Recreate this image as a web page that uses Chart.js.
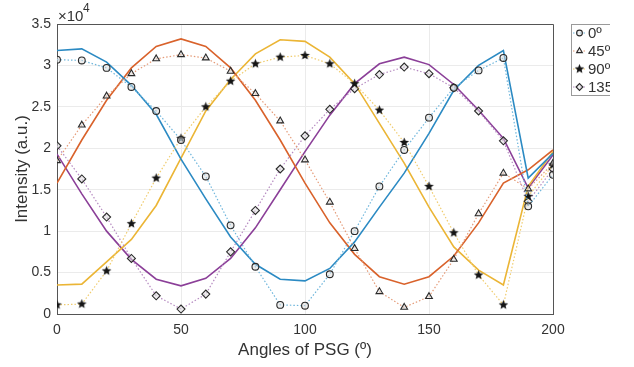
<!DOCTYPE html>
<html>
<head>
<meta charset="utf-8">
<script src="https://cdn.jsdelivr.net/npm/chart.js@4/dist/chart.umd.min.js"></script>
<style>
    html, body { margin: 0; padding: 0; background: #ffffff; }
    #wrap { width: 634px; height: 367px; }
</style>
</head>
<body>
<div id="wrap"><canvas id="chart" width="634" height="367"></canvas></div>
<script>
/* data (intensity, a.u.) */
const angles = [0, 10, 20, 30, 40, 50, 60, 70, 80, 90, 100, 110, 120, 130, 140, 150, 160, 170, 180, 190, 200];

// solid lines (fits)
const fit0 = [31800, 32000, 30400, 27600, 24100, 18700, 13900, 9300, 6000, 4200, 4000, 5500, 8700, 12900, 17000, 21800, 27000, 30000, 31800, 16400, 19400];
const fit45 = [15800, 21000, 25800, 29700, 32300, 33200, 32300, 29700, 25800, 21000, 15800, 11000, 7200, 4500, 3600, 4500, 7000, 11000, 15800, 17400, 19800];
const fit90 = [3500, 3600, 6300, 9000, 13100, 18800, 24500, 28300, 31400, 33100, 32900, 31000, 27800, 23000, 18200, 12900, 8100, 5300, 3500, 15400, 19600];
const fit135 = [19300, 14500, 10000, 6600, 4200, 3400, 4300, 6700, 10400, 15000, 19600, 24000, 27800, 30200, 31000, 30100, 27700, 24600, 21200, 15200, 19200];

// dotted lines with markers (measured)
const meas0 = [30700, 30600, 29700, 27400, 24500, 21000, 16600, 10700, 5700, 1100, 1000, 4800, 10000, 15400, 19800, 23700, 27300, 29400, 30900, 13000, 16800];
const meas45 = [18500, 22800, 26300, 29000, 30800, 31300, 30900, 29300, 26600, 23300, 18600, 13500, 7900, 2700, 800, 2100, 6600, 12100, 17000, 15100, 18200];
const meas90 = [1100, 1200, 5200, 10900, 16400, 21200, 25000, 28100, 30200, 31000, 31200, 30200, 27800, 24600, 20700, 15400, 9800, 4700, 1100, 14200, 18000];
const meas135 = [20300, 16300, 11700, 6700, 2200, 600, 2400, 7500, 12500, 17500, 21500, 24700, 27200, 28900, 29800, 29000, 27300, 24500, 20900, 13600, 17500];

const legendLabels = ["0º", "45º", "90º", "135º"];
const lineColors = ["#2b8ac3", "#d9622b", "#ebb535", "#8b3f98"];
const dotColors = ["#6fb6dc", "#e59b78", "#f0cc6e", "#b68bc1"];

const textColor = "#333333";
const frameColor = "#555555";
const gridColor = "#ebebeb";

/*
    filled five point star for the 90º marker
*/
function makeStar(size) {
    const c = document.createElement("canvas");
    c.width = size;
    c.height = size;
    const g = c.getContext("2d");
    const cx = size / 2, cy = size / 2;
    const outer = size / 2 - 0.5, inner = outer * 0.45;
    g.beginPath();
    for (let i = 0; i < 10; i++) {
        const r = i % 2 === 0 ? outer : inner;
        const a = -Math.PI / 2 + i * Math.PI / 5;
        const px = cx + r * Math.cos(a);
        const py = cy + r * Math.sin(a);
        if (i === 0) g.moveTo(px, py); else g.lineTo(px, py);
    }
    g.closePath();
    g.fillStyle = "#151515";
    g.fill();
    return c;
}
const starImg = makeStar(11);

const markerStyles = [
    { pointStyle: "circle", radius: 3.4 },
    { pointStyle: "triangle", radius: 3.9 },
    { pointStyle: starImg, radius: 5 },
    { pointStyle: "rectRot", radius: 4 }
];

function toPoints(values) {
    return angles.map((a, i) => ({ x: a, y: values[i] }));
}

function measDataset(values, idx) {
    return {
        label: legendLabels[idx],
        data: toPoints(values),
        borderColor: dotColors[idx],
        borderWidth: 1.2,
        borderDash: [1.5, 2],
        pointStyle: markerStyles[idx].pointStyle,
        pointRadius: markerStyles[idx].radius,
        pointBorderColor: "#2a2a2a",
        pointBackgroundColor: "rgba(220,220,220,0.5)",
        pointBorderWidth: 1.1,
        tension: 0
    };
}

function fitDataset(values, idx) {
    return {
        label: "fit " + legendLabels[idx],
        data: toPoints(values),
        borderColor: lineColors[idx],
        borderWidth: 1.6,
        pointRadius: 0,
        tension: 0
    };
}

const datasets = [
    measDataset(meas0, 0),
    measDataset(meas45, 1),
    measDataset(meas90, 2),
    measDataset(meas135, 3),
    fitDataset(fit0, 0),
    fitDataset(fit45, 1),
    fitDataset(fit90, 2),
    fitDataset(fit135, 3)
];

/*
    box frame, exponent label and the legend (matlab style)
*/
const extrasPlugin = {
    id: "extras",
    afterDraw(chart) {
        const ctx = chart.ctx;
        const area = chart.chartArea;
        ctx.save();

        // top and right edges of the axes box
        ctx.strokeStyle = frameColor;
        ctx.lineWidth = 1;
        ctx.beginPath();
        ctx.moveTo(area.left, area.top + 0.5);
        ctx.lineTo(area.right + 0.5, area.top + 0.5);
        ctx.lineTo(area.right + 0.5, area.bottom);
        ctx.stroke();

        // x10^4
        ctx.fillStyle = textColor;
        ctx.textBaseline = "alphabetic";
        ctx.textAlign = "left";
        ctx.font = "15px 'Liberation Sans', Arial, sans-serif";
        ctx.fillText("×10", area.left + 1, 21);
        ctx.font = "12px 'Liberation Sans', Arial, sans-serif";
        ctx.fillText("4", area.left + 26, 12);

        // legend box, cut off on the right like the original figure
        ctx.beginPath();
        ctx.rect(560, 0, 50, 120);
        ctx.clip();

        const boxX = 571.5, boxY = 24.5, boxH = 71;
        ctx.fillStyle = "#ffffff";
        ctx.fillRect(boxX, boxY, 100, boxH);
        ctx.strokeStyle = "#9a9a9a";
        ctx.lineWidth = 1;
        ctx.strokeRect(boxX, boxY, 100, boxH);

        const rowY = [33, 51, 69, 87];
        legendLabels.forEach((lab, i) => {
            const y = rowY[i];
            ctx.strokeStyle = dotColors[i];
            ctx.lineWidth = 1.2;
            ctx.setLineDash([1.5, 2]);
            ctx.beginPath();
            ctx.moveTo(573, y);
            ctx.lineTo(586, y);
            ctx.stroke();
            ctx.setLineDash([]);

            ctx.strokeStyle = "#2a2a2a";
            ctx.fillStyle = "rgba(220,220,220,0.5)";
            ctx.lineWidth = 1.1;
            Chart.helpers.drawPoint(ctx, {
                pointStyle: markerStyles[i].pointStyle,
                radius: markerStyles[i].radius * 0.85,
                rotation: 0,
                borderWidth: 1.1
            }, 579.5, y);

            ctx.fillStyle = textColor;
            ctx.font = "15px 'Liberation Sans', Arial, sans-serif";
            ctx.textBaseline = "middle";
            ctx.textAlign = "left";
            ctx.fillText(lab, 588, y + 1);
        });

        ctx.restore();
    }
};

const tickFont = { family: "'Liberation Sans', Arial, sans-serif", size: 14 };
const titleFont = { family: "'Liberation Sans', Arial, sans-serif", size: 17 };

new Chart(document.getElementById("chart"), {
    type: "line",
    data: { datasets: datasets },
    options: {
        responsive: false,
        animation: false,
        layout: { padding: { top: 24, right: 81, left: 0, bottom: 0 } },
        plugins: {
            legend: { display: false },
            tooltip: { enabled: false }
        },
        scales: {
            x: {
                type: "linear",
                min: 0,
                max: 200,
                ticks: { stepSize: 50, color: textColor, font: tickFont, padding: 8, maxRotation: 0 },
                grid: { color: gridColor, drawTicks: false },
                border: { display: true, color: frameColor, width: 1 },
                title: { display: true, text: "Angles of PSG (º)", color: textColor, font: titleFont, padding: { top: 0, bottom: 6 } },
                afterFit: (scale) => { scale.height = 53; }
            },
            y: {
                type: "linear",
                min: 0,
                max: 35000,
                ticks: {
                    stepSize: 5000,
                    color: textColor,
                    font: tickFont,
                    padding: 6,
                    callback: (v) => String(v / 10000)
                },
                grid: { color: gridColor, drawTicks: false },
                border: { display: true, color: frameColor, width: 1 },
                title: { display: true, text: "Intensity (a.u.)", color: textColor, font: titleFont, padding: { top: 12, bottom: 0 } },
                afterFit: (scale) => { scale.width = 57; }
            }
        }
    },
    plugins: [extrasPlugin]
});
</script>
</body>
</html>
